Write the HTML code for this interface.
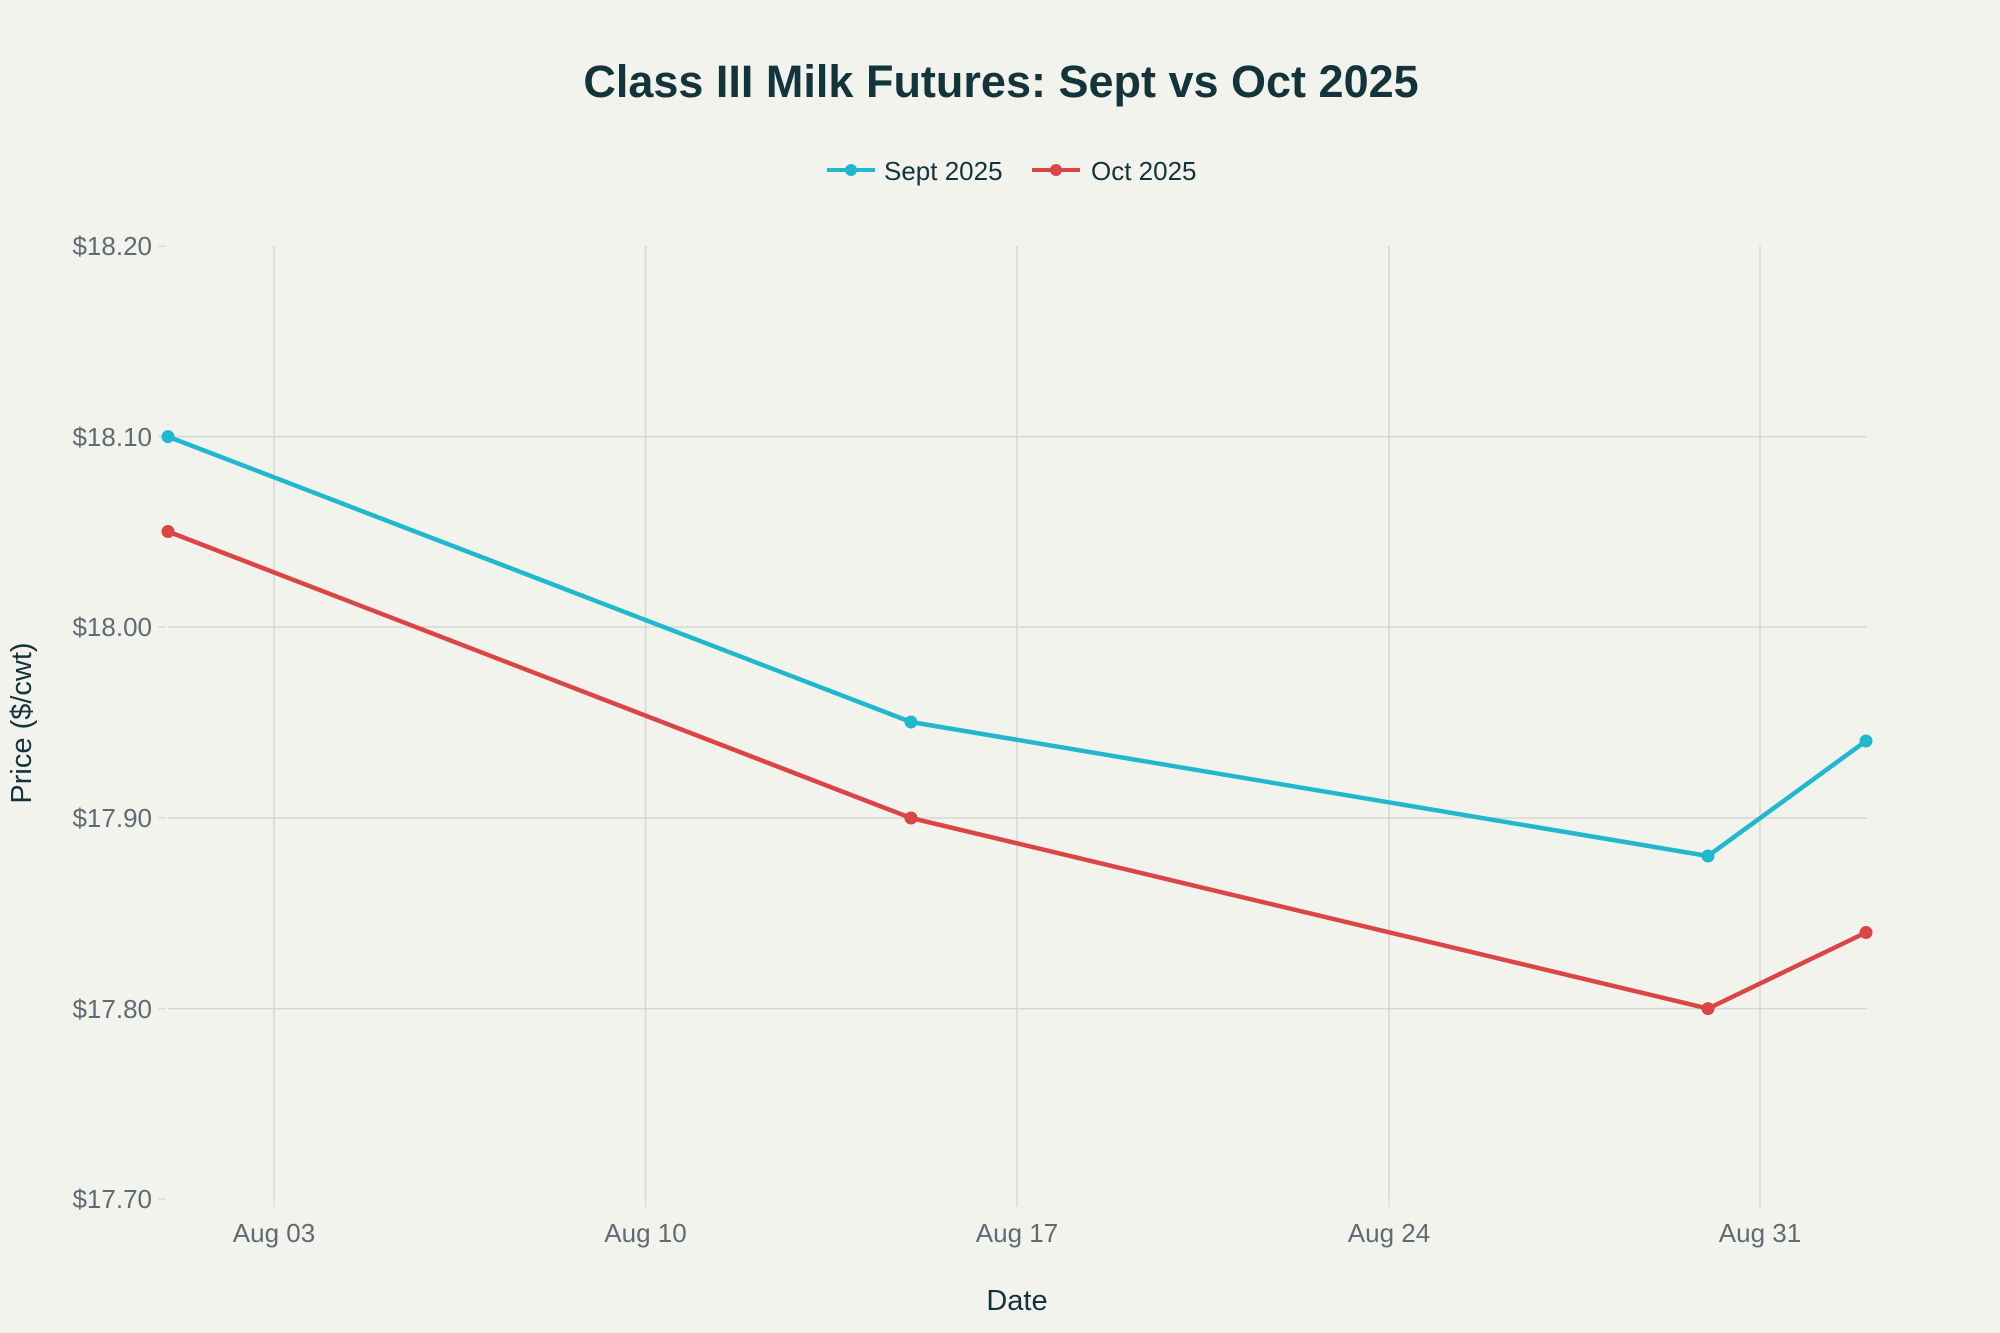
<!DOCTYPE html>
<html><head><meta charset="utf-8"><style>
html,body{margin:0;padding:0;background:#f3f3ee;}
svg{display:block;font-family:"Liberation Sans",sans-serif;}
</style></head><body>
<svg width="2000" height="1333" viewBox="0 0 2000 1333">
<rect width="2000" height="1333" fill="#f3f3ee"/>
<text x="1001" y="97" text-anchor="middle" font-size="45" font-weight="bold" fill="#13343b">Class III Milk Futures: Sept vs Oct 2025</text>
<line x1="827" y1="170" x2="875" y2="170" stroke="#1fb8cd" stroke-width="4"/>
<circle cx="851" cy="170" r="6" fill="#1fb8cd"/>
<text x="884" y="180" font-size="26" fill="#13343b">Sept 2025</text>
<line x1="1032" y1="170" x2="1080" y2="170" stroke="#db4545" stroke-width="4"/>
<circle cx="1056" cy="170" r="6" fill="#db4545"/>
<text x="1091" y="180" font-size="26" fill="#13343b">Oct 2025</text>
<g stroke="#d6d6d2" stroke-width="1.5">
<line x1="274" y1="246" x2="274" y2="1199"/>
<line x1="645.5" y1="246" x2="645.5" y2="1199"/>
<line x1="1017" y1="246" x2="1017" y2="1199"/>
<line x1="1389" y1="246" x2="1389" y2="1199"/>
<line x1="1760" y1="246" x2="1760" y2="1199"/>
<line x1="168" y1="436.6" x2="1867" y2="436.6"/>
<line x1="168" y1="627" x2="1867" y2="627"/>
<line x1="168" y1="818" x2="1867" y2="818"/>
<line x1="168" y1="1008.6" x2="1867" y2="1008.6"/>
</g>
<g stroke="#e0d8d6" stroke-width="1.5">
<line x1="158" y1="246" x2="166" y2="246"/>
<line x1="158" y1="436.6" x2="166" y2="436.6"/>
<line x1="158" y1="627" x2="166" y2="627"/>
<line x1="158" y1="818" x2="166" y2="818"/>
<line x1="158" y1="1008.6" x2="166" y2="1008.6"/>
<line x1="158" y1="1199" x2="166" y2="1199"/>
<line x1="274" y1="1199" x2="274" y2="1207"/>
<line x1="645.5" y1="1199" x2="645.5" y2="1207"/>
<line x1="1017" y1="1199" x2="1017" y2="1207"/>
<line x1="1389" y1="1199" x2="1389" y2="1207"/>
<line x1="1760" y1="1199" x2="1760" y2="1207"/>
</g>
<g fill="#5f6b73" font-size="26" text-anchor="end">
<text x="152" y="255">$18.20</text>
<text x="152" y="446">$18.10</text>
<text x="152" y="636">$18.00</text>
<text x="152" y="827">$17.90</text>
<text x="152" y="1018">$17.80</text>
<text x="152" y="1208">$17.70</text>
</g>
<g fill="#5f6b73" font-size="26" text-anchor="middle">
<text x="274" y="1242">Aug 03</text>
<text x="645.5" y="1242">Aug 10</text>
<text x="1017" y="1242">Aug 17</text>
<text x="1389" y="1242">Aug 24</text>
<text x="1760" y="1242">Aug 31</text>
</g>
<text x="1017" y="1310" text-anchor="middle" font-size="29" fill="#13343b">Date</text>
<text transform="translate(31,723) rotate(-90)" text-anchor="middle" font-size="29" fill="#13343b">Price ($/cwt)</text>
<polyline points="168,436.6 911,722 1708,856 1866,741" fill="none" stroke="#1fb8cd" stroke-width="4.5" stroke-linejoin="round"/>
<polyline points="168,531.5 911,818 1708,1008.6 1866,932.5" fill="none" stroke="#db4545" stroke-width="4.5" stroke-linejoin="round"/>
<g fill="#1fb8cd"><circle cx="168" cy="436.6" r="6.5"/><circle cx="911" cy="722" r="6.5"/><circle cx="1708" cy="856" r="6.5"/><circle cx="1866" cy="741" r="6.5"/></g>
<g fill="#db4545"><circle cx="168" cy="531.5" r="6.5"/><circle cx="911" cy="818" r="6.5"/><circle cx="1708" cy="1008.6" r="6.5"/><circle cx="1866" cy="932.5" r="6.5"/></g>
</svg>
</body></html>
